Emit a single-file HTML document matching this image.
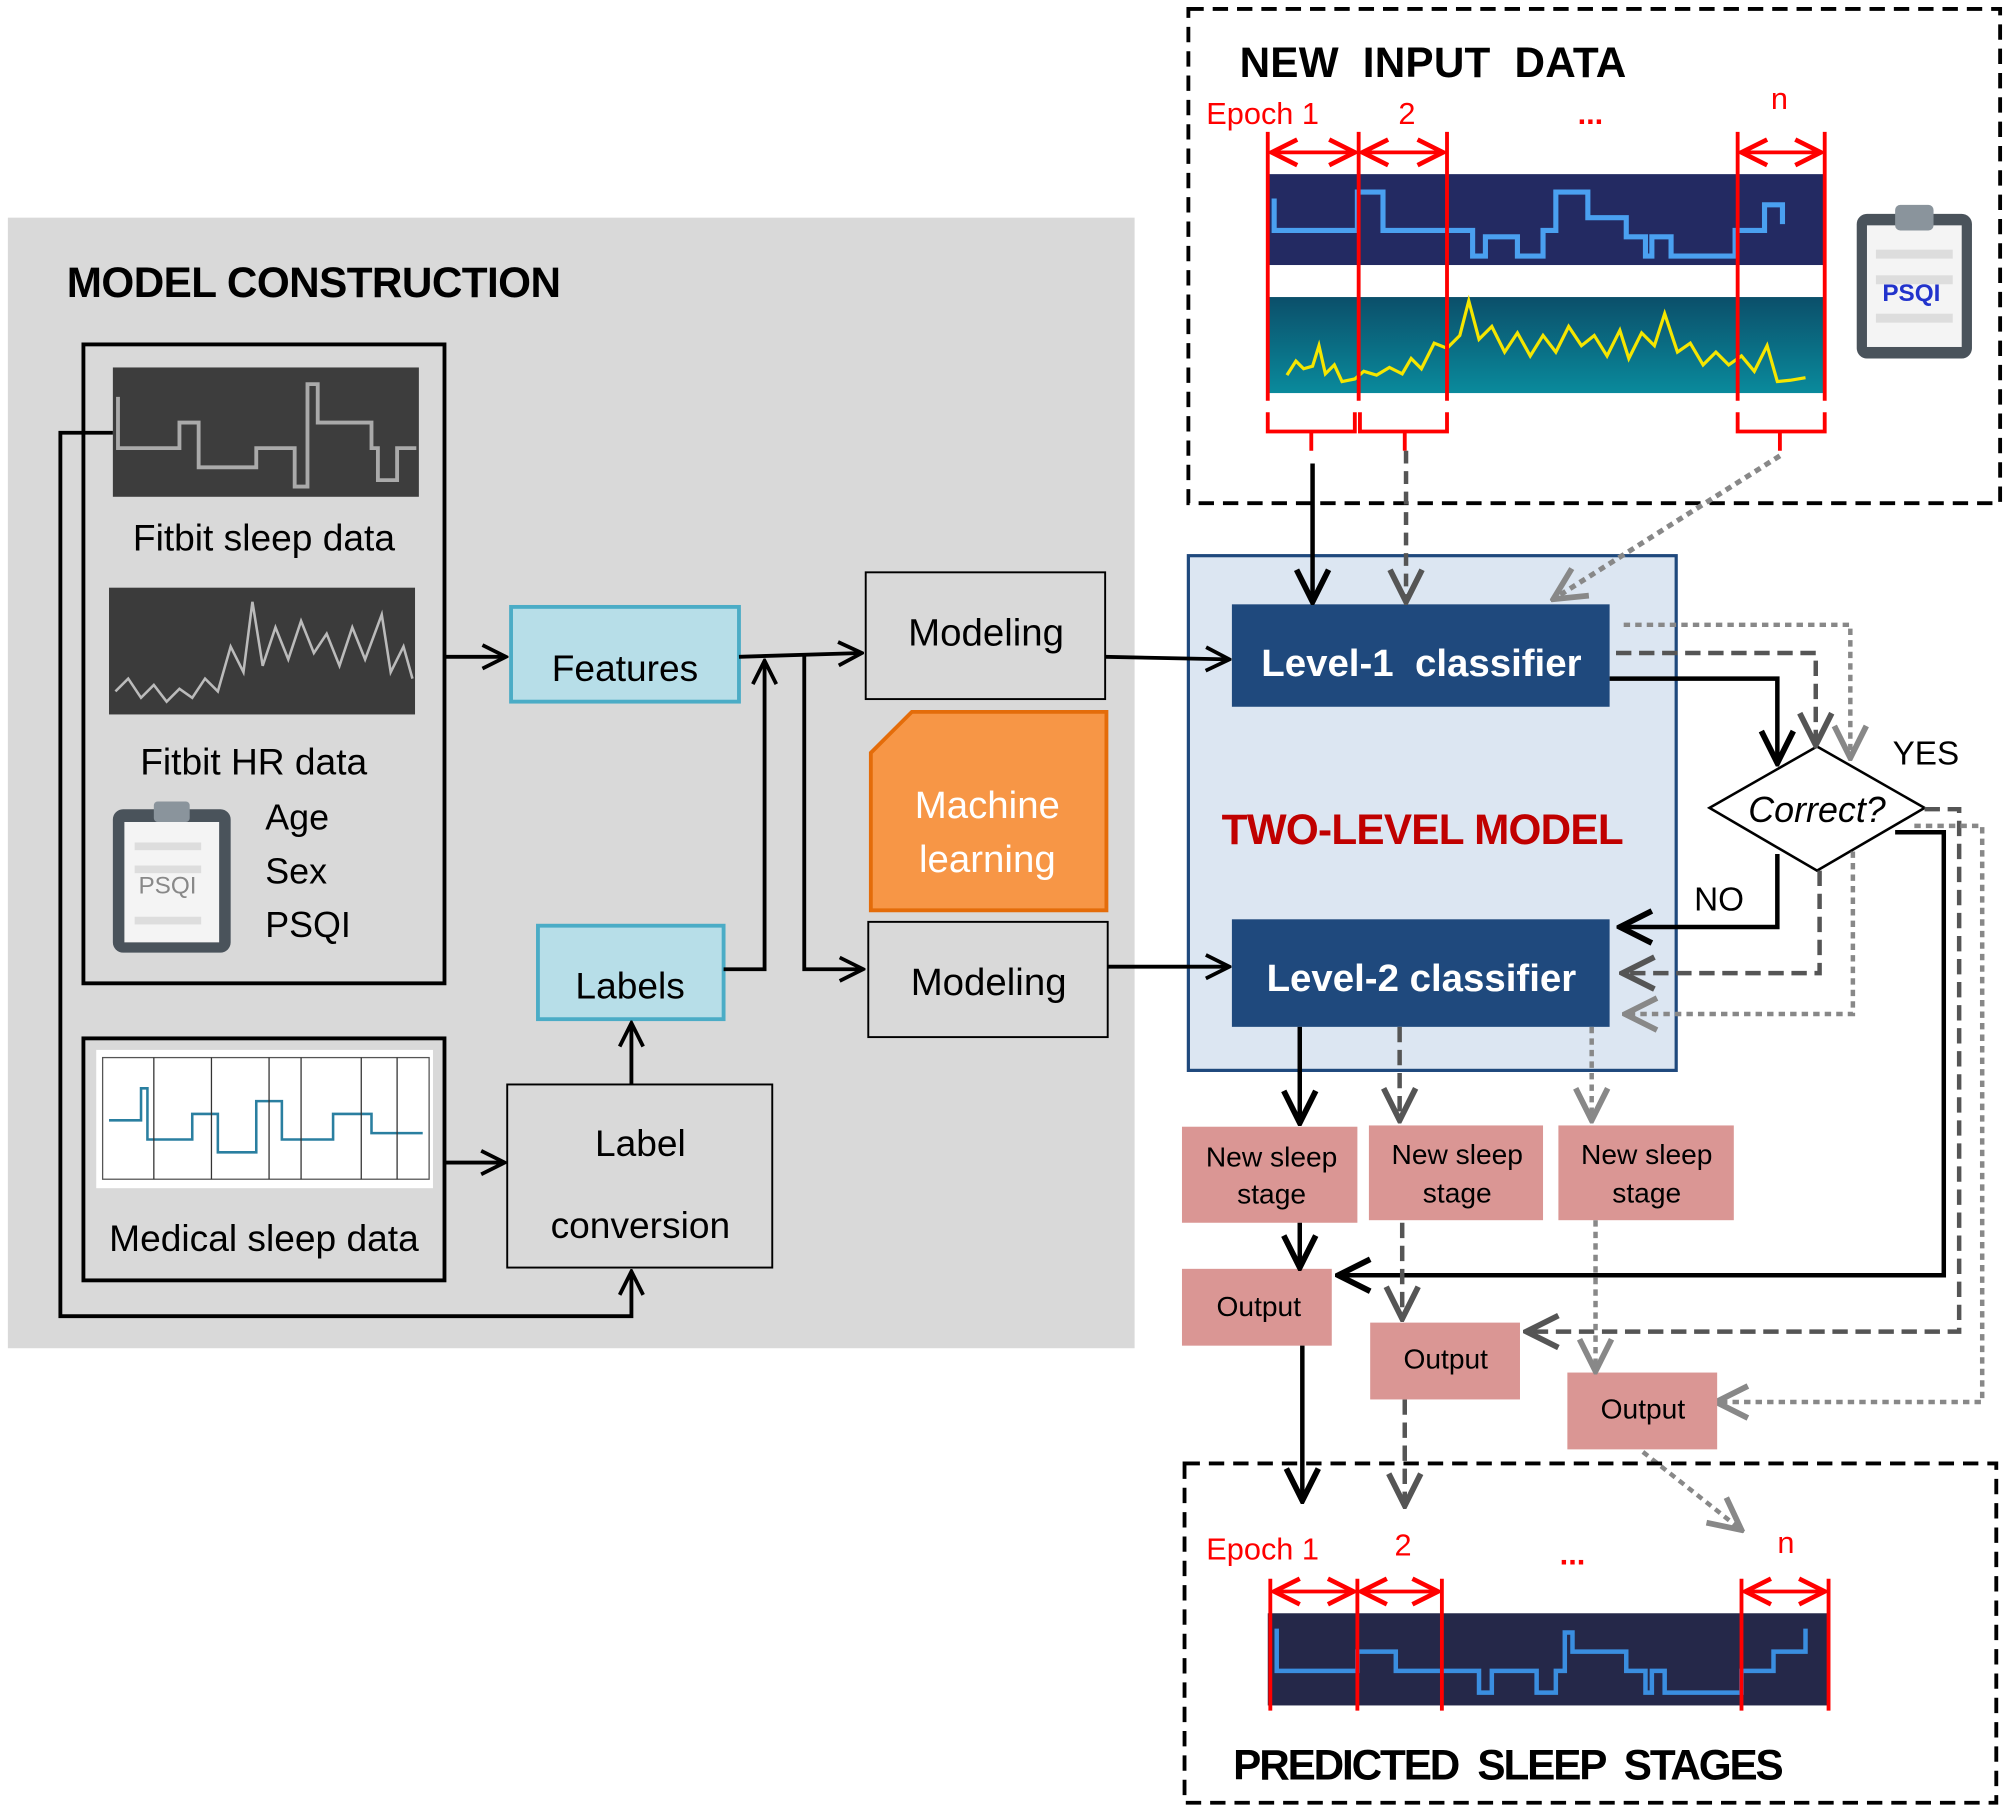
<!DOCTYPE html>
<html><head><meta charset="utf-8"><style>
html,body{margin:0;padding:0;background:#fff}
svg{display:block}
text{font-family:"Liberation Sans",sans-serif;white-space:pre}
</style></head><body>
<svg width="2008" height="1813" viewBox="0 0 1568 1416" xmlns="http://www.w3.org/2000/svg">
<defs>
<marker id="ab" viewBox="0 0 12 12" refX="11" refY="6" markerWidth="22" markerHeight="22" markerUnits="userSpaceOnUse" orient="auto"><path d="M1,1 L11,6 L1,11" fill="none" stroke="#000" stroke-width="1.6"/></marker>
<marker id="ak" viewBox="0 0 12 12" refX="11" refY="6" markerWidth="30" markerHeight="30" markerUnits="userSpaceOnUse" orient="auto"><path d="M1,1 L11,6 L1,11" fill="none" stroke="#000" stroke-width="1.8"/></marker>
<marker id="ad" viewBox="0 0 12 12" refX="11" refY="6" markerWidth="30" markerHeight="30" markerUnits="userSpaceOnUse" orient="auto"><path d="M1,1 L11,6 L1,11" fill="none" stroke="#555" stroke-width="1.8"/></marker>
<marker id="ag" viewBox="0 0 12 12" refX="11" refY="6" markerWidth="30" markerHeight="30" markerUnits="userSpaceOnUse" orient="auto"><path d="M1,1 L11,6 L1,11" fill="none" stroke="#888" stroke-width="1.8"/></marker>
<marker id="ar" viewBox="0 0 12 12" refX="11" refY="6" markerWidth="24" markerHeight="24" markerUnits="userSpaceOnUse" orient="auto-start-reverse"><path d="M1,1 L11,6 L1,11" fill="none" stroke="#f00" stroke-width="1.8"/></marker>
<linearGradient id="hr" x1="0" y1="0" x2="0" y2="1"><stop offset="0" stop-color="#0b4f6a"/><stop offset="1" stop-color="#0a8a9c"/></linearGradient>
</defs>

<!-- gray panel -->
<rect x="6" y="170" width="880" height="883" fill="#d9d9d9"/>
<text x="52" y="232" font-size="33" font-weight="bold" textLength="386">MODEL CONSTRUCTION</text>

<!-- box1 -->
<rect x="65" y="269" width="282" height="499" fill="none" stroke="#000" stroke-width="3"/>
<rect x="88" y="287" width="239" height="101" fill="#3d3d3d"/>
<path d="M92,310 V350 H140 V330 H155 V365 H200 V350 H230 V380 H240 V300 H248 V330 H290 V350 H295 V375 H310 V350 H325" fill="none" stroke="#aaa" stroke-width="3"/>
<text x="206" y="430" font-size="29" text-anchor="middle">Fitbit sleep data</text>
<rect x="85" y="459" width="239" height="99" fill="#3b3b3b"/>
<path d="M90,540 L100,530 L110,545 L120,535 L130,548 L140,538 L150,545 L160,530 L170,540 L180,505 L190,525 L197,470 L205,520 L215,490 L225,515 L235,485 L245,510 L255,495 L265,520 L275,490 L285,515 L298,480 L305,525 L315,505 L322,530" fill="none" stroke="#bbb" stroke-width="2"/>
<text x="198" y="605" font-size="29" text-anchor="middle">Fitbit HR data</text>
<rect x="88" y="632" width="92" height="112" rx="8" fill="#4a535b"/>
<rect x="97" y="642" width="74" height="94" fill="#f4f4f4"/>
<rect x="120" y="626" width="28" height="16" rx="3" fill="#8a949c"/>
<g fill="#ddd"><rect x="105" y="658" width="52" height="6"/><rect x="105" y="676" width="52" height="6"/><rect x="105" y="716" width="52" height="6"/></g>
<text x="108" y="698" font-size="19" fill="#888">PSQI</text>
<text x="207" y="648" font-size="28">Age</text>
<text x="207" y="690" font-size="28">Sex</text>
<text x="207" y="732" font-size="28">PSQI</text>

<!-- box2 -->
<rect x="65" y="811" width="282" height="189" fill="none" stroke="#000" stroke-width="3"/>
<rect x="75" y="820" width="263" height="108" fill="#fff"/>
<rect x="80" y="826" width="255" height="95" fill="none" stroke="#555" stroke-width="1"/>
<path d="M85,875 H110 V850 H115 V890 H150 V870 H170 V900 H200 V860 H220 V890 H260 V870 H290 V885 H330" fill="none" stroke="#2a7fa0" stroke-width="2"/>
<g stroke="#333" stroke-width="1"><path d="M120,826 V921 M165,826 V921 M210,826 V921 M235,826 V921 M282,826 V921 M310,826 V921"/></g>
<text x="206" y="977" font-size="29" text-anchor="middle">Medical sleep data</text>

<rect x="399" y="474" width="178" height="74" fill="#b7dee8" stroke="#4bacc6" stroke-width="3"/>
<text x="488" y="532" font-size="29" text-anchor="middle">Features</text>
<rect x="420" y="723" width="145" height="73" fill="#b7dee8" stroke="#4bacc6" stroke-width="3"/>
<text x="492" y="780" font-size="29" text-anchor="middle">Labels</text>
<rect x="396" y="847" width="207" height="143" fill="none" stroke="#000" stroke-width="1.5"/>
<text x="500" y="903" font-size="29" text-anchor="middle">Label</text>
<text x="500" y="967" font-size="29" text-anchor="middle">conversion</text>

<rect x="676" y="447" width="187" height="99" fill="none" stroke="#000" stroke-width="1.5"/>
<text x="770" y="504" font-size="30" text-anchor="middle">Modeling</text>
<rect x="678" y="720" width="187" height="90" fill="none" stroke="#000" stroke-width="1.5"/>
<text x="772" y="777" font-size="30" text-anchor="middle">Modeling</text>
<path d="M712,556 H864 V711 H680 V588 Z" fill="#f79646" stroke="#e46c0a" stroke-width="3"/>
<text x="771" y="639" font-size="30" fill="#fff" text-anchor="middle">Machine</text>
<text x="771" y="681" font-size="30" fill="#fff" text-anchor="middle">learning</text>

<g fill="none" stroke="#000" stroke-width="3">
<path d="M347,513 H395" marker-end="url(#ab)"/>
<path d="M577,513 L673,510" marker-end="url(#ab)"/>
<path d="M565,757 H597 V516" marker-end="url(#ab)"/>
<path d="M628,511 V757 H674" marker-end="url(#ab)"/>
<path d="M88,338 H47 V1028 H493 V993" marker-end="url(#ab)"/>
<path d="M347,908 H394" marker-end="url(#ab)"/>
<path d="M493,847 V799" marker-end="url(#ab)"/>
</g>

<!-- two-level -->
<rect x="928" y="434" width="381" height="402" fill="#dce6f2" stroke="#1f497d" stroke-width="2.5"/>
<rect x="962" y="472" width="295" height="80" fill="#1f497d"/>
<text x="1110" y="528" font-size="30" font-weight="bold" fill="#fff" text-anchor="middle">Level-1  classifier</text>
<rect x="962" y="718" width="295" height="84" fill="#1f497d"/>
<text x="1110" y="774" font-size="30" font-weight="bold" fill="#fff" text-anchor="middle">Level-2 classifier</text>
<text x="1111" y="659" font-size="33" font-weight="bold" fill="#c00000" text-anchor="middle" textLength="314">TWO-LEVEL MODEL</text>
<g fill="none" stroke="#000" stroke-width="3">
<path d="M863,513 L960,515" marker-end="url(#ab)"/>
<path d="M865,755 L960,755" marker-end="url(#ab)"/>
</g>

<!-- new input data -->
<rect x="928" y="7" width="634" height="386" fill="none" stroke="#000" stroke-width="3" stroke-dasharray="12,7"/>
<text x="968" y="60" font-size="33" font-weight="bold" textLength="302">NEW  INPUT  DATA</text>
<text x="942" y="97" font-size="24" fill="#f00">Epoch 1</text>
<text x="1092" y="97" font-size="24" fill="#f00">2</text>
<text x="1232" y="97" font-size="24" fill="#f00" font-weight="bold">...</text>
<text x="1383" y="85" font-size="24" fill="#f00">n</text>
<rect x="990" y="136" width="435" height="71" fill="#232a62"/>
<path d="M995,155 V180 H1060 V150 H1080 V180 H1150 V200 H1160 V185 H1185 V200 H1205 V180 H1215 V150 H1240 V170 H1270 V185 H1285 V200 H1290 V185 H1305 V200 H1355 V180 H1378 V160 H1392 V175" fill="none" stroke="#4aa0f0" stroke-width="4"/>
<rect x="990" y="232" width="435" height="75" fill="url(#hr)"/>
<path d="M1005,293 L1012,282 L1018,288 L1025,286 L1030,270 L1035,292 L1042,285 L1048,298 L1058,296 L1065,290 L1075,293 L1085,287 L1095,292 L1102,280 L1110,288 L1120,268 L1130,272 L1140,262 L1147,235 L1155,265 L1165,255 L1175,275 L1185,260 L1195,278 L1205,262 L1215,275 L1225,255 L1235,270 L1245,262 L1255,278 L1265,258 L1272,280 L1282,260 L1292,270 L1300,245 L1310,275 L1320,268 L1330,285 L1340,275 L1350,285 L1360,278 L1370,290 L1380,270 L1388,298 L1398,297 L1410,295" fill="none" stroke="#f5e600" stroke-width="2.5"/>
<g stroke="#f00" stroke-width="3"><path d="M990,103 V313 M1061,103 V313 M1130,103 V313 M1357,103 V313 M1425,103 V313"/></g>
<g fill="none" stroke="#f00" stroke-width="3">
<path d="M993,119 H1058" marker-start="url(#ar)" marker-end="url(#ar)"/>
<path d="M1064,119 H1127" marker-start="url(#ar)" marker-end="url(#ar)"/>
<path d="M1360,119 H1422" marker-start="url(#ar)" marker-end="url(#ar)"/>
<path d="M990,322 V337 H1058 V322 M1024,337 V352"/>
<path d="M1062,322 V337 H1130 V322 M1097,337 V352"/>
<path d="M1357,322 V337 H1425 V322 M1390,337 V352"/>
</g>
<rect x="1450" y="167" width="90" height="113" rx="8" fill="#4a535b"/>
<rect x="1458" y="176" width="74" height="95" fill="#f4f4f4"/>
<rect x="1480" y="160" width="30" height="20" rx="4" fill="#8a949c"/>
<g fill="#ddd"><rect x="1465" y="195" width="60" height="7"/><rect x="1465" y="215" width="60" height="7"/><rect x="1465" y="245" width="60" height="7"/></g>
<text x="1470" y="235" font-size="19" font-weight="bold" fill="#2233cc">PSQI</text>

<path d="M1025,362 V470" fill="none" stroke="#000" stroke-width="3.5" marker-end="url(#ak)"/>
<path d="M1098,352 V470" fill="none" stroke="#555" stroke-width="3.5" stroke-dasharray="10,6" marker-end="url(#ad)"/>
<path d="M1390,356 L1213,468" fill="none" stroke="#888" stroke-width="4" stroke-dasharray="5,4" marker-end="url(#ag)"/>

<polygon points="1335,631 1419,583 1503,631 1419,680" fill="#fff" stroke="#000" stroke-width="2"/>
<text x="1419" y="642" font-size="28" font-style="italic" text-anchor="middle">Correct?</text>
<text x="1478" y="597" font-size="26">YES</text>
<text x="1323" y="711" font-size="26">NO</text>

<path d="M1257,530 H1388 V596" fill="none" stroke="#000" stroke-width="3.5" marker-end="url(#ak)"/>
<path d="M1262,510 H1418 V582" fill="none" stroke="#555" stroke-width="3.5" stroke-dasharray="12,6" marker-end="url(#ad)"/>
<path d="M1268,488 H1445 V592" fill="none" stroke="#888" stroke-width="3.5" stroke-dasharray="5,4" marker-end="url(#ag)"/>
<path d="M1388,667 V724 H1265" fill="none" stroke="#000" stroke-width="3.5" marker-end="url(#ak)"/>
<path d="M1421,680 V760 H1267" fill="none" stroke="#555" stroke-width="3.5" stroke-dasharray="12,6" marker-end="url(#ad)"/>
<path d="M1447,665 V792 H1269" fill="none" stroke="#888" stroke-width="3.5" stroke-dasharray="5,4" marker-end="url(#ag)"/>
<path d="M1480,650 H1518 V996 H1045" fill="none" stroke="#000" stroke-width="3.5" marker-end="url(#ak)"/>
<path d="M1503,632 H1530 V1040 H1192" fill="none" stroke="#555" stroke-width="3.5" stroke-dasharray="12,6" marker-end="url(#ad)"/>
<path d="M1495,645 H1548 V1095 H1340" fill="none" stroke="#888" stroke-width="3.5" stroke-dasharray="5,4" marker-end="url(#ag)"/>

<path d="M1015,802 V877" fill="none" stroke="#000" stroke-width="3.5" marker-end="url(#ak)"/>
<path d="M1093,802 V875" fill="none" stroke="#555" stroke-width="3.5" stroke-dasharray="12,6" marker-end="url(#ad)"/>
<path d="M1243,802 V875" fill="none" stroke="#888" stroke-width="3.5" stroke-dasharray="5,4" marker-end="url(#ag)"/>

<g fill="#da9694">
<rect x="923" y="880" width="137" height="75"/>
<rect x="1069" y="879" width="136" height="74"/>
<rect x="1217" y="879" width="137" height="74"/>
<rect x="923" y="991" width="117" height="60"/>
<rect x="1070" y="1033" width="117" height="60"/>
<rect x="1224" y="1072" width="117" height="60"/>
</g>
<g font-size="22" text-anchor="middle">
<text x="993" y="911">New sleep</text><text x="993" y="940">stage</text>
<text x="1138" y="909">New sleep</text><text x="1138" y="939">stage</text>
<text x="1286" y="909">New sleep</text><text x="1286" y="939">stage</text>
<text x="983" y="1028">Output</text>
<text x="1129" y="1069">Output</text>
<text x="1283" y="1108">Output</text>
</g>
<path d="M1015,955 V990" fill="none" stroke="#000" stroke-width="3.5" marker-end="url(#ak)"/>
<path d="M1095,955 V1030" fill="none" stroke="#555" stroke-width="3.5" stroke-dasharray="12,6" marker-end="url(#ad)"/>
<path d="M1246,953 V1071" fill="none" stroke="#888" stroke-width="3.5" stroke-dasharray="5,4" marker-end="url(#ag)"/>
<path d="M1017,1051 V1172" fill="none" stroke="#000" stroke-width="3.5" marker-end="url(#ak)"/>
<path d="M1097,1093 V1176" fill="none" stroke="#555" stroke-width="3.5" stroke-dasharray="12,6" marker-end="url(#ad)"/>
<path d="M1283,1134 L1360,1195" fill="none" stroke="#888" stroke-width="3.5" stroke-dasharray="5,4" marker-end="url(#ag)"/>

<rect x="925" y="1143" width="634" height="265" fill="none" stroke="#000" stroke-width="3" stroke-dasharray="12,7"/>
<text x="942" y="1218" font-size="24" fill="#f00">Epoch 1</text>
<text x="1089" y="1215" font-size="24" fill="#f00">2</text>
<text x="1218" y="1222" font-size="24" fill="#f00" font-weight="bold">...</text>
<text x="1388" y="1213" font-size="24" fill="#f00">n</text>
<rect x="990" y="1260" width="438" height="72" fill="#252849"/>
<path d="M997,1272 V1305 H1060 V1290 H1090 V1305 H1155 V1322 H1165 V1305 H1200 V1322 H1215 V1305 H1222 V1275 H1228 V1290 H1270 V1305 H1285 V1322 H1290 V1305 H1300 V1322 H1360 V1305 H1385 V1290 H1410 V1272" fill="none" stroke="#3a8ee0" stroke-width="3.5"/>
<g stroke="#f00" stroke-width="3"><path d="M992,1233 V1336 M1060,1233 V1336 M1126,1233 V1336 M1360,1233 V1336 M1428,1233 V1336"/></g>
<g fill="none" stroke="#f00" stroke-width="3">
<path d="M995,1243 H1057" marker-start="url(#ar)" marker-end="url(#ar)"/>
<path d="M1063,1243 H1123" marker-start="url(#ar)" marker-end="url(#ar)"/>
<path d="M1363,1243 H1425" marker-start="url(#ar)" marker-end="url(#ar)"/>
</g>
<text x="963" y="1390" font-size="33" font-weight="bold" textLength="430">PREDICTED  SLEEP  STAGES</text>
</svg>
</body></html>
